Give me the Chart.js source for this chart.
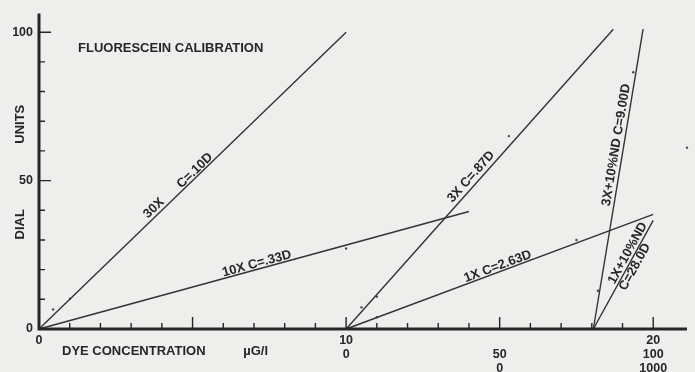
<!DOCTYPE html>
<html>
<head>
<meta charset="utf-8">
<script src="https://cdn.jsdelivr.net/npm/chart.js@4"></script>
<style>
  html, body { margin: 0; padding: 0; background: #eeeeec; }
  #wrap { width: 695px; height: 372px; }
</style>
</head>
<body>
<div id="wrap"><canvas id="chart"></canvas></div>
<script>
// calibration lines (x on the combined concentration axis, y in dial units)
const lineNames = ["30X", "10X", "3X", "1X", "3X+10%ND", "1X+10%ND"];
const lineX = [[0, 10], [0, 14], [10, 18.7], [10, 20], [18.05, 19.67], [18.05, 20]];
const lineY = [[0, 100], [0, 39.6], [0, 101], [0, 38.6], [0, 101], [0, 36.6]];

// text written along each line
const lineText = [
  ["30X", "C=.10D"],
  ["10X C=.33D"],
  ["3X C=.87D"],
  ["1X C=2.63D"],
  ["3X+10%ND C=9.00D"],
  ["1X+10%ND", "C=28.0D"],
];

// measured points
const dotX = [0.46, 1.01, 10.0, 10.5, 11.0, 11.0, 15.3, 17.5, 18.2, 19.35, 21.1];
const dotY = [6.6, 10.2, 27.1, 7.3, 10.9, 4.0, 65.0, 30.0, 12.9, 86.5, 61.1];

// tick labels
const yLabelValues = [0, 50, 100];
const xTickLabels = {
  0: ["0"],
  10: ["10", "0"],
  15: ["", "50", "0"],
  20: ["20", "100", "1000"],
};

const ink = "#262626";
const font = '"Liberation Sans", Arial, sans-serif';

// where along each line (fraction) and how far off it the texts sit
const textPlace = [
  [[0.39, -7], [0.52, -5.5]],
  [[0.51, -5.5]],
  [[0.49, -8]],
  [[0.5, -5.5]],
  [[0.61, -7.5]],
  [[0.67, -6.5], [0.6, 6.5]],
];

function textAlong(ctx, a, b, t, off, s) {
  const ang = Math.atan2(b.y - a.y, b.x - a.x);
  ctx.save();
  ctx.translate(a.x + (b.x - a.x) * t, a.y + (b.y - a.y) * t);
  ctx.rotate(ang);
  ctx.textAlign = "center";
  ctx.textBaseline = "middle";
  ctx.fillText(s, 0, off);
  ctx.restore();
}

const paper = {
  id: "paper",
  beforeDraw(chart) {
    const ctx = chart.ctx;
    ctx.save();
    ctx.fillStyle = "#eeeeec";
    ctx.fillRect(0, 0, chart.width, chart.height);
    ctx.restore();
  },
};

const decor = {
  id: "decor",
  afterDraw(chart) {
    const ctx = chart.ctx;
    const xs = chart.scales.x, ys = chart.scales.y;
    const area = chart.chartArea;
    ctx.save();
    ctx.strokeStyle = ink;
    ctx.fillStyle = ink;

    // axes
    ctx.lineWidth = 3;
    ctx.beginPath();
    ctx.moveTo(area.left, area.top);
    ctx.lineTo(area.left, area.bottom + 1.5);
    ctx.moveTo(area.left - 1.5, area.bottom);
    ctx.lineTo(area.right, area.bottom);
    ctx.stroke();

    // inward ticks
    ctx.lineWidth = 1.4;
    ctx.beginPath();
    for (let v = 10; v <= 100; v += 10) {
      const py = ys.getPixelForValue(v);
      const len = v % 50 === 0 ? 12 : 6;
      ctx.moveTo(area.left, py);
      ctx.lineTo(area.left + len, py);
    }
    for (let v = 1; v <= 20; v++) {
      const px = xs.getPixelForValue(v);
      const len = v % 5 === 0 ? 12 : 6;
      ctx.moveTo(px, area.bottom);
      ctx.lineTo(px, area.bottom - len);
    }
    ctx.stroke();

    // title and axis titles
    ctx.font = "bold 13px " + font;
    ctx.textBaseline = "middle";
    ctx.textAlign = "left";
    ctx.fillText("FLUORESCEIN CALIBRATION", xs.getPixelForValue(1.27), ys.getPixelForValue(94.4));
    ctx.fillText("DYE CONCENTRATION", xs.getPixelForValue(0.75), area.bottom + 22);
    ctx.fillText("\u00b5G/l", xs.getPixelForValue(6.65), area.bottom + 22);

    ctx.textAlign = "center";
    [["UNITS", 69], ["DIAL", 35.3]].forEach(([s, v]) => {
      ctx.save();
      ctx.translate(area.left - 19, ys.getPixelForValue(v));
      ctx.rotate(-Math.PI / 2);
      ctx.fillText(s, 0, 0);
      ctx.restore();
    });

    // line texts
    ctx.font = "bold 13px " + font;
    lineX.forEach((lx, i) => {
      const a = { x: xs.getPixelForValue(lx[0]), y: ys.getPixelForValue(lineY[i][0]) };
      const b = { x: xs.getPixelForValue(lx[1]), y: ys.getPixelForValue(lineY[i][1]) };
      lineText[i].forEach((s, j) => {
        textAlong(ctx, a, b, textPlace[i][j][0], textPlace[i][j][1], s);
      });
    });
    ctx.restore();
  },
};

const datasets = lineNames.map((name, i) => ({
  label: name,
  data: lineX[i].map((x, j) => ({ x: x, y: lineY[i][j] })),
  showLine: true,
  borderColor: "#333333",
  borderWidth: 1.4,
  pointRadius: 0,
  clip: false,
}));

datasets.push({
  label: "points",
  data: dotX.map((x, i) => ({ x: x, y: dotY[i] })),
  showLine: false,
  pointRadius: 1.2,
  pointBackgroundColor: "#444",
  pointBorderWidth: 0,
  clip: false,
});

new Chart(document.getElementById("chart"), {
  type: "scatter",
  data: { datasets: datasets },
  options: {
    responsive: true,
    maintainAspectRatio: false,
    animation: false,
    layout: { autoPadding: false, padding: { top: 7, right: 8, left: 0, bottom: 0 } },
    plugins: { legend: { display: false }, tooltip: { enabled: false } },
    scales: {
      x: {
        type: "linear",
        min: 0,
        max: 21.1,
        afterFit(scale) { scale.height = 43; },
        border: { display: false },
        grid: { display: false, drawTicks: false },
        ticks: {
          stepSize: 1,
          autoSkip: false,
          maxRotation: 0,
          includeBounds: false,
          padding: 5,
          color: ink,
          font: { family: font, size: 12.5, weight: "bold", lineHeight: 1.1 },
          callback: (v) => xTickLabels[v] || "",
        },
      },
      y: {
        type: "linear",
        min: 0,
        max: 106.3,
        afterFit(scale) { scale.width = 39; },
        border: { display: false },
        grid: { display: false, drawTicks: false },
        ticks: {
          stepSize: 10,
          includeBounds: false,
          padding: 6,
          color: ink,
          font: { family: font, size: 12.5, weight: "bold" },
          callback: (v) => (yLabelValues.includes(v) ? String(v) : ""),
        },
      },
    },
  },
  plugins: [paper, decor],
});
</script>
</body>
</html>
